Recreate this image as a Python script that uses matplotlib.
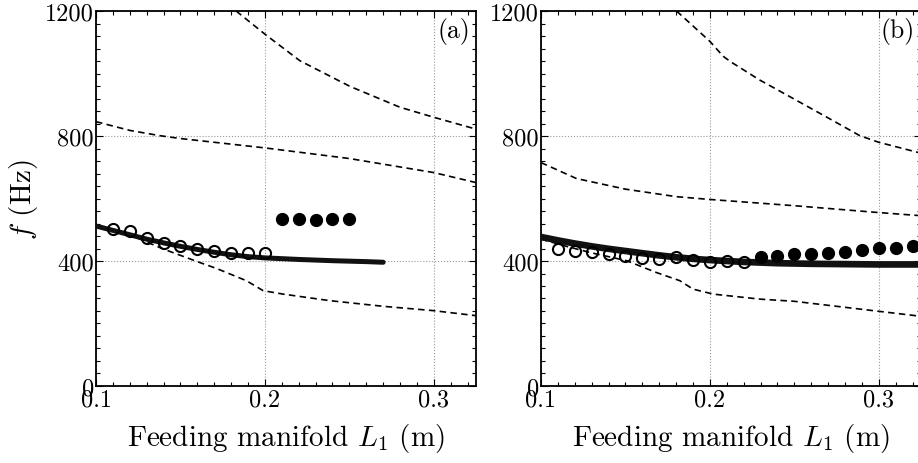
import numpy as np
import matplotlib.pyplot as plt
from matplotlib.ticker import MultipleLocator

plt.rcParams['font.family'] = 'cmr10'
plt.rcParams['mathtext.fontset'] = 'cm'
plt.rcParams['axes.formatter.use_mathtext'] = True
plt.rcParams['axes.unicode_minus'] = False

# ---- panel (a) ----
a_model_L = [0.10, 0.11, 0.12, 0.13, 0.14, 0.15, 0.16, 0.17, 0.18, 0.19, 0.20, 0.22, 0.24, 0.26, 0.27]
a_model_f = [512, 498, 484, 470, 458, 447, 437, 428, 420, 414, 410, 405, 401, 398, 396]

a_open_L = [0.11, 0.12, 0.13, 0.14, 0.15, 0.16, 0.17, 0.18, 0.19, 0.20]
a_open_f = [504, 497, 474, 458, 449, 438, 431, 427, 426, 426]
a_fill_L = [0.21, 0.22, 0.23, 0.24, 0.25]
a_fill_f = [536, 535, 531, 535, 535]

a_d1_L = [0.183, 0.20, 0.2207, 0.2503, 0.28, 0.30, 0.325]
a_d1_f = [1200, 1126, 1041, 959, 892, 860, 822]
a_d2_L = [0.10, 0.12, 0.138, 0.15, 0.20, 0.25, 0.30, 0.325]
a_d2_f = [846, 818, 801, 792, 762, 728, 683, 651]
a_d3_L = [0.10, 0.12, 0.14, 0.1615, 0.1714, 0.189, 0.199, 0.2108, 0.2385, 0.27, 0.30, 0.325]
a_d3_f = [512, 484, 438, 395, 376, 337, 305, 294, 273, 255, 241, 225]

# ---- panel (b) ----
b_model_L = [0.10, 0.11, 0.12, 0.13, 0.14, 0.15, 0.16, 0.17, 0.18, 0.19, 0.20, 0.22, 0.24, 0.26, 0.28, 0.30, 0.325]
b_model_f = [477, 466, 456, 447, 439, 432, 425, 418, 412, 407, 403, 397, 393, 391, 390, 389, 389]

b_open_L = [0.11, 0.12, 0.13, 0.14, 0.15, 0.16, 0.17, 0.18, 0.19, 0.20, 0.21, 0.22]
b_open_f = [438, 433, 428, 422, 415, 411, 408, 414, 404, 398, 401, 398]
b_fill_L = [0.23, 0.24, 0.25, 0.26, 0.27, 0.28, 0.29, 0.30, 0.31, 0.32]
b_fill_f = [412, 417, 422, 424, 427, 429, 436, 441, 441, 449]

b_d1_L = [0.1803, 0.20, 0.2079, 0.2128, 0.2296, 0.25, 0.27, 0.2888, 0.30, 0.325]
b_d1_f = [1200, 1103, 1055, 1036, 979, 918, 858, 801, 780, 745]
b_d2_L = [0.10, 0.121, 0.15, 0.18, 0.20, 0.25, 0.30, 0.325]
b_d2_f = [715, 664, 630, 606, 597, 577, 555, 545]
b_d3_L = [0.10, 0.115, 0.13, 0.1507, 0.1684, 0.1822, 0.190, 0.202, 0.2296, 0.25, 0.30, 0.325]
b_d3_f = [470, 447, 426, 401, 363, 337, 310, 294, 278, 271, 239, 223]

x_ticks = [0.1, 0.2, 0.3]
x_ticklabels = ['0.1', '0.2', '0.3']
y_ticks = [0, 400, 800, 1200]
y_ticklabels = ['0', '400', '800', '1200']

fig = plt.figure(figsize=(9.18, 4.64), dpi=100)
ax_a = fig.add_axes([0.1046, 0.166, 0.414, 0.808])
ax_b = fig.add_axes([0.5893, 0.166, 0.414, 0.808])


def draw_panel(ax, model_L, model_f, open_L, open_f, fill_L, fill_f, dashed, tag, lw):
	for L, f in dashed:
		ax.plot(L, f, color='black', lw=1.2, dashes=(3.9, 2.6), zorder=2)
	ax.plot(model_L, model_f, color='#111111', lw=lw, solid_capstyle='round', zorder=3)
	ax.plot(open_L, open_f, 'o', ms=8, mfc='none', mec='black', mew=1.5, zorder=4)
	ax.plot(fill_L, fill_f, 'o', ms=8.5, color='black', zorder=4)

	ax.set_xlim(0.1, 0.325)
	ax.set_ylim(0, 1200)
	ax.set_xticks(x_ticks, labels=x_ticklabels)
	ax.set_yticks(y_ticks, labels=y_ticklabels)
	ax.xaxis.set_minor_locator(MultipleLocator(0.01))
	ax.yaxis.set_minor_locator(MultipleLocator(40))
	ax.tick_params(which='both', direction='in', top=True, right=True, labelsize=17.5, pad=1.5)
	ax.tick_params(which='major', length=5, width=0.8)
	ax.tick_params(which='minor', length=3, width=0.8)
	ax.grid(True, which='major', color='#999999', ls=':', lw=0.8)
	for s in ax.spines.values():
		s.set_linewidth(1.3)
	ax.set_xlabel('Feeding manifold $L_1$ (m)', fontsize=21, labelpad=8)
	ax.text(0.984, 0.983, tag, transform=ax.transAxes, ha='right', va='top', fontsize=18.5)


draw_panel(ax_a, a_model_L, a_model_f, a_open_L, a_open_f, a_fill_L, a_fill_f,
	[(a_d1_L, a_d1_f), (a_d2_L, a_d2_f), (a_d3_L, a_d3_f)], '(a)', 3.6)
draw_panel(ax_b, b_model_L, b_model_f, b_open_L, b_open_f, b_fill_L, b_fill_f,
	[(b_d1_L, b_d1_f), (b_d2_L, b_d2_f), (b_d3_L, b_d3_f)], '(b)', 4.8)

ax_a.set_ylabel('$f$ (Hz)', fontsize=21, labelpad=4)

fig.savefig('out.png', dpi=100)
